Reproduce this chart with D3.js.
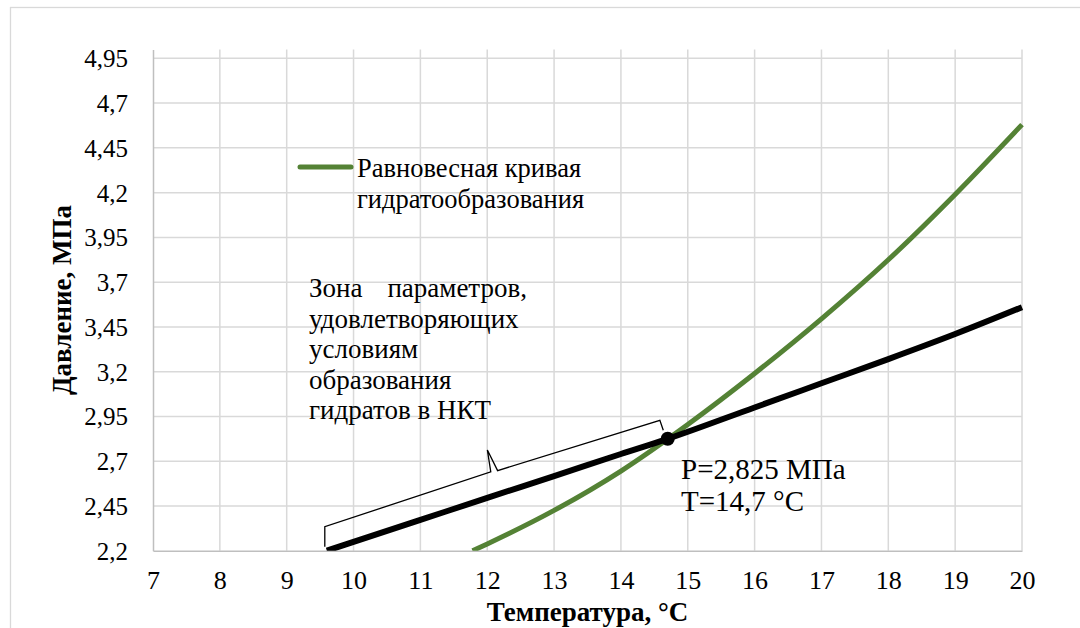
<!DOCTYPE html>
<html>
<head>
<meta charset="utf-8">
<script src="https://cdn.jsdelivr.net/npm/d3@7"></script>
<style>
  html, body { margin: 0; padding: 0; background: #ffffff; }
  svg { display: block; }
  text { font-family: "Liberation Serif", "Times New Roman", serif; fill: #000; }
</style>
</head>
<body>
<svg id="chart" width="1080" height="628"></svg>
<script>
// ---- data ----
const tempTicks = [7, 8, 9, 10, 11, 12, 13, 14, 15, 16, 17, 18, 19, 20];
const pressureTicks = [2.2, 2.45, 2.7, 2.95, 3.2, 3.45, 3.7, 3.95, 4.2, 4.45, 4.7, 4.95];

// equilibrium hydrate formation curve (green)
const hydrateT = [11.78, 12, 13, 14, 15, 16, 17, 18, 19, 20];
const hydrateP = [2.2, 2.238, 2.425, 2.645, 2.905, 3.19, 3.495, 3.825, 4.19, 4.58];

// tubing pressure-temperature line (black)
const tubingT = [9.6, 11, 12, 13, 14, 14.7, 16, 17, 18, 19, 20];
const tubingP = [2.2, 2.372, 2.495, 2.617, 2.74, 2.825, 3.0, 3.135, 3.27, 3.41, 3.56];

// intersection point
const crossT = [14.7];
const crossP = [2.825];

const legendLabel = ["Равновесная кривая", "гидратообразования"];
const zoneLabel = ["удовлетворяющих", "условиям", "образования", "гидратов в НКТ"];
const zoneFirst = ["Зона", "параметров,"];
const crossLabel = ["P=2,825 МПа", "T=14,7 °C"];
const xTitle = "Температура, °C";
const yTitle = "Давление, МПа";

// ---- layout ----
const SERIF = '"Liberation Serif", "Times New Roman", serif';
const svg = d3.select("#chart");
const W = 1080, H = 628;
const pL = 153, pR = 1022, pT = 49.4, pB = 550.7;
const x = d3.scaleLinear().domain([7, 20]).range([pL, pR]);
const y = d3.scaleLinear().domain([2.2, 5.0]).range([pB, pT]);
const fmt = v => String(v).replace(".", ",");

svg.append("rect").attr("width", W).attr("height", H).attr("fill", "#fff");
// outer chart border
svg.append("rect").attr("x", 10.5).attr("y", 7.5).attr("width", W + 20).attr("height", H + 20)
  .attr("fill", "none").attr("stroke", "#d9d9d9").attr("stroke-width", 1.3);

// gridlines
const grid = svg.append("g");
grid.selectAll("line.v").data(tempTicks.slice(1)).join("line")
  .attr("x1", d => x(d)).attr("x2", d => x(d)).attr("y1", pT).attr("y2", pB)
  .attr("stroke", "#d9d9d9").attr("stroke-width", 1.5);
grid.selectAll("line.h").data(pressureTicks.slice(1)).join("line")
  .attr("x1", pL).attr("x2", pR).attr("y1", d => y(d)).attr("y2", d => y(d))
  .attr("stroke", "#d9d9d9").attr("stroke-width", 1.5);

// axes
const xAxis = d3.axisBottom(x).tickValues(tempTicks).tickSize(0).tickPadding(0).tickFormat(fmt);
const gx = svg.append("g").attr("transform", `translate(0,${pB})`).call(xAxis);
gx.attr("font-family", null).attr("font-size", null);
gx.select(".domain").attr("stroke", "#bfbfbf").attr("stroke-width", 1.5);
gx.selectAll("text").attr("y", 38).attr("dy", null)
  .style("font-size", "26px").style("font-family", SERIF);

const yAxis = d3.axisLeft(y).tickValues(pressureTicks).tickSize(0).tickPadding(0).tickFormat(fmt);
const gy = svg.append("g").attr("transform", `translate(${pL},0)`).call(yAxis);
gy.attr("font-family", null).attr("font-size", null);
gy.select(".domain").attr("stroke", "#bfbfbf").attr("stroke-width", 1.5);
gy.selectAll("text").attr("x", -25).attr("dy", "0.34em")
  .style("font-size", "25px").style("font-family", SERIF);

// axis titles
svg.append("text").attr("x", (pL + pR) / 2).attr("y", 621).attr("text-anchor", "middle")
  .style("font-family", SERIF).style("font-size", "27px").style("font-weight", "bold").text(xTitle);
svg.append("text").attr("transform", `translate(71,${(pT + pB) / 2}) rotate(-90)`)
  .attr("text-anchor", "middle")
  .style("font-family", SERIF).style("font-size", "27px").style("font-weight", "bold").text(yTitle);

// clip
svg.append("clipPath").attr("id", "plotclip").append("rect")
  .attr("x", pL).attr("y", pT - 5).attr("width", pR - pL + 4).attr("height", pB - pT + 5);

const line = d3.line().x(d => x(d[0])).y(d => y(d[1])).curve(d3.curveMonotoneX);

svg.append("path")
  .datum(hydrateT.map((t, i) => [t, hydrateP[i]]))
  .attr("clip-path", "url(#plotclip)")
  .attr("d", line)
  .attr("fill", "none").attr("stroke", "#548235").attr("stroke-width", 5);

svg.append("path")
  .datum(tubingT.map((t, i) => [t, tubingP[i]]))
  .attr("clip-path", "url(#plotclip)")
  .attr("d", line)
  .attr("fill", "none").attr("stroke", "#000").attr("stroke-width", 6);

svg.selectAll("circle.cross").data(crossT).join("circle")
  .attr("cx", d => x(d)).attr("cy", (d, i) => y(crossP[i])).attr("r", 7).attr("fill", "#000");

// brace along the tubing line from its start to the intersection
const A = [x(tubingT[0]), y(tubingP[0])];
const B = [x(crossT[0]), y(crossP[0])];
const pt = (t, dx, dy) => [A[0] + t * (B[0] - A[0]) + dx, A[1] + t * (B[1] - A[1]) + dy];
const brace = [pt(0, -2, -4), pt(0, -2, -24), pt(0.481, 0, -25), pt(0.471, 0, -48),
               pt(0.501, 0, -24), pt(0.977, 0, -21), pt(0.987, 0, -10)];
svg.append("path").attr("d", d3.line()(brace))
  .attr("fill", "none").attr("stroke", "#000").attr("stroke-width", 1.3);

// zone annotation text
const zt = svg.append("g").style("font-size", "27px").style("font-family", SERIF);
zt.append("text").attr("x", 309).attr("y", 297).text(zoneFirst[0]);
zt.append("text").attr("x", 527).attr("y", 297).attr("text-anchor", "end").text(zoneFirst[1]);
zoneLabel.forEach((s, i) => zt.append("text").attr("x", 309).attr("y", 327.5 + i * 30.5).text(s));

// legend
svg.append("line").attr("x1", 300).attr("x2", 351).attr("y1", 167).attr("y2", 167)
  .attr("stroke", "#548235").attr("stroke-width", 5).attr("stroke-linecap", "round");
legendLabel.forEach((s, i) => svg.append("text").attr("x", 357).attr("y", 177 + i * 31)
  .style("font-family", SERIF).style("font-size", "26.5px").text(s));

// intersection label
crossLabel.forEach((s, i) => svg.append("text").attr("x", 681).attr("y", 479 + i * 32)
  .style("font-family", SERIF).style("font-size", "29px").text(s));
</script>
</body>
</html>
